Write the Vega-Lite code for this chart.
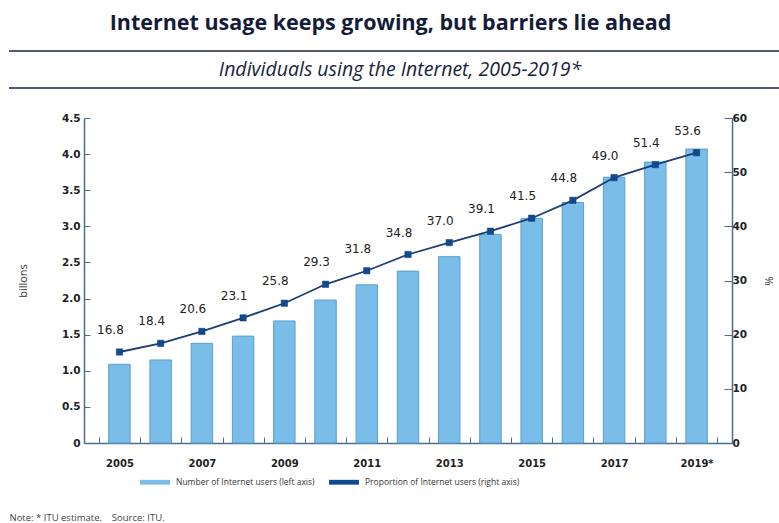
{
  "$schema": "https://vega.github.io/schema/vega-lite/v6.json",
  "padding": {"left": 8, "top": 12, "right": 0, "bottom": 0},
  "background": "white",
  "title": {
    "text": "Internet usage keeps growing, but barriers lie ahead",
    "font": "Open Sans",
    "fontSize": 21.5,
    "fontWeight": "bold",
    "color": "#141c3a",
    "anchor": "middle",
    "offset": 16,
    "dx": -6
  },
  "config": {
    "view": {"stroke": null},
    "font": "DejaVu Sans"
  },
  "spacing": 24,
  "resolve": {"legend": {"color": "independent"}},
  "vconcat": [
    {
      "width": 700,
      "height": 37,
      "data": {"values": [{"edge": "top", "text": "Individuals using the Internet, 2005-2019*"}, {"edge": "bottom", "text": ""}]},
      "layer": [
        {
          "mark": {"type": "rule", "color": "#1a2340", "strokeWidth": 1.6},
          "encoding": {
            "y": {
              "field": "edge", "type": "nominal", "sort": ["top", "bottom"],
              "scale": {"type": "point", "padding": 0},
              "axis": {"title": null, "labels": false, "domain": false, "ticks": true, "tickSize": 75, "tickColor": "#1a2340", "tickWidth": 1.6, "translate": 0}
            }
          }
        },
        {
          "transform": [{"filter": "datum.text != ''"}],
          "mark": {"type": "text", "font": "Open Sans", "fontSize": 19.5, "fontStyle": "italic", "color": "#1a2340", "align": "center", "baseline": "middle", "dx": -34},
          "encoding": {"text": {"field": "text"}}
        }
      ]
    },
    {
      "width": 648,
      "height": 325,
      "data": {"values": [
        {"year": "2005", "users": 1.09, "pct": 16.8},
        {"year": "2006", "users": 1.15, "pct": 18.4},
        {"year": "2007", "users": 1.38, "pct": 20.6},
        {"year": "2008", "users": 1.48, "pct": 23.1},
        {"year": "2009", "users": 1.69, "pct": 25.8},
        {"year": "2010", "users": 1.98, "pct": 29.3},
        {"year": "2011", "users": 2.19, "pct": 31.8},
        {"year": "2012", "users": 2.38, "pct": 34.8},
        {"year": "2013", "users": 2.58, "pct": 37.0},
        {"year": "2014", "users": 2.89, "pct": 39.1},
        {"year": "2015", "users": 3.11, "pct": 41.5},
        {"year": "2016", "users": 3.33, "pct": 44.8},
        {"year": "2017", "users": 3.68, "pct": 49.0},
        {"year": "2018", "users": 3.89, "pct": 51.4},
        {"year": "2019*", "users": 4.07, "pct": 53.6}
      ]},
      "encoding": {
        "x": {
          "field": "year", "type": "nominal", "sort": null,
          "scale": {"type": "band", "paddingInner": 0, "paddingOuter": 0.36},
          "axis": {
            "title": null,
            "labelAngle": 0,
            "labelFont": "DejaVu Sans",
            "labelFontWeight": "bold",
            "labelFontSize": 10,
            "labelColor": "#222222",
            "labelPadding": 21,
            "labelExpr": "indexof(['2005','2007','2009','2011','2013','2015','2017','2019*'], datum.value) >= 0 ? datum.value : ''",
            "tickBand": "extent",
            "tickSize": -6,
            "tickColor": "#4d6d8f",
            "domainColor": "#4d6d8f",
            "domainWidth": 1.5,
            "tickWidth": 1
          }
        }
      },
      "layer": [
        {
          "mark": {"type": "bar", "width": {"band": 0.52}, "stroke": "#5a9fd2", "strokeWidth": 1},
          "encoding": {
            "y": {
              "field": "users", "type": "quantitative",
              "scale": {"domain": [0, 4.5]},
              "axis": {
                "title": "billons",
                "titleFont": "Open Sans",
                "titleFontWeight": "normal",
                "titleFontSize": 11,
                "titleColor": "#333333",
                "titlePadding": 33,
                "values": [0, 0.5, 1, 1.5, 2, 2.5, 3, 3.5, 4, 4.5],
                "labelExpr": "datum.value == 0 ? '0' : format(datum.value, '.1f')",
                "labelFont": "DejaVu Sans",
                "labelFontWeight": "bold",
                "labelFontSize": 10.5,
                "labelColor": "#222222",
                "labelPadding": 10,
                "grid": false,
                "tickSize": -6,
                "tickColor": "#4d6d8f",
                "domainColor": "#4d6d8f",
                "domainWidth": 1.5
              }
            },
            "color": {
              "datum": "Number of Internet users (left axis)",
              "scale": {
                "domain": ["Number of Internet users (left axis)", "Proportion of Internet users (right axis)"],
                "range": ["#79bde8", "#0e4a8f"]
              },
              "legend": {
                "title": null,
                "orient": "none",
                "direction": "horizontal",
                "legendX": 56,
                "legendY": 349,
                "symbolType": "M-1,-0.16H1V0.16H-1Z",
                "symbolSize": 900,
                "symbolStrokeWidth": 0,
                "labelFont": "Open Sans",
                "labelFontSize": 8.5,
                "labelColor": "#333333",
                "labelLimit": 400,
                "columnPadding": 14,
                "labelOffset": 6
              }
            }
          }
        },
        {
          "encoding": {
            "y": {
              "field": "pct", "type": "quantitative",
              "scale": {"domain": [0, 60]},
              "axis": {
                "orient": "right",
                "title": "%",
                "titleFont": "Open Sans",
                "titleFontWeight": "normal",
                "titleFontSize": 11,
                "titleColor": "#333333",
                "titlePadding": 16,
                "values": [0, 10, 20, 30, 40, 50, 60],
                "labelFont": "DejaVu Sans",
                "labelFontWeight": "bold",
                "labelFontSize": 10.5,
                "labelColor": "#222222",
                "labelPadding": 8,
                "grid": false,
                "tickSize": -8,
                "tickColor": "#4d6d8f",
                "domainColor": "#4d6d8f",
                "domainWidth": 1.5
              }
            }
          },
          "layer": [
            {"mark": {"type": "line", "color": "#1c3d75", "strokeWidth": 1.8}},
            {
              "mark": {"type": "point", "shape": "square", "filled": true, "size": 40, "opacity": 1, "stroke": "#0a3a70", "strokeWidth": 0.5},
              "encoding": {
                "color": {"datum": "Proportion of Internet users (right axis)"}
              }
            },
            {
              "mark": {"type": "text", "font": "DejaVu Sans", "fontSize": 12, "color": "#222222", "dy": -22, "dx": -9, "baseline": "middle"},
              "encoding": {"text": {"field": "pct", "type": "quantitative", "format": ".1f"}}
            }
          ]
        }
      ],
      "resolve": {"scale": {"y": "independent"}}
    },
    {
      "width": 1,
      "height": 1,
      "data": {"values": [{"note": "Note: * ITU estimate.\u00a0\u00a0\u00a0 Source: ITU."}]},
      "mark": {"type": "text", "text": ""},
      "encoding": {
        "y": {
          "field": "note", "type": "nominal",
          "axis": {"title": null, "domain": false, "ticks": false, "labelAlign": "left", "labelPadding": 75, "labelLimit": 0, "labelFont": "Open Sans", "labelFontSize": 9.5, "labelColor": "#444444"}
        }
      }
    }
  ]
}
